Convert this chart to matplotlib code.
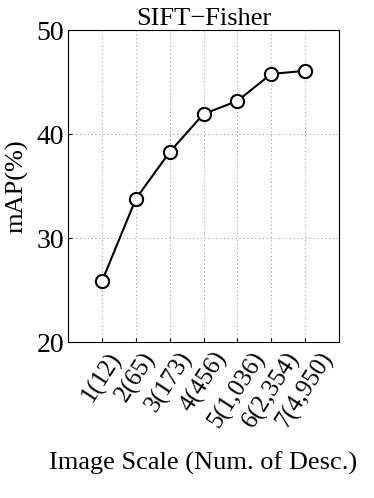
import matplotlib
matplotlib.use("Agg")
import matplotlib.pyplot as plt

# données
scales = [1, 2, 3, 4, 5, 6, 7]
labels = ["1(12)", "2(65)", "3(173)", "4(456)", "5(1,036)", "6(2,354)", "7(4,950)"]
mAP = [25.9, 33.8, 38.3, 41.95, 43.2, 45.8, 46.1]

plt.rcParams["font.family"] = ["Liberation Serif", "DejaVu Serif"]

fig = plt.figure(figsize=(3.74, 4.98), dpi=100)
ax = fig.add_axes([68.3 / 374, 1 - 342.3 / 498, 270.4 / 374, 312 / 498])

ax.plot(scales, mAP, color="black", linewidth=1.5, marker="o", markersize=9.5,
        markerfacecolor="white", markeredgecolor="black", markeredgewidth=1.5, zorder=3)

ax.set_xlim(0, 8)
ax.set_ylim(20, 50)
ax.set_yticks([20, 30, 40, 50])
ax.set_xticks(scales)
ax.set_xticklabels(labels, rotation=57, ha="center", va="top", fontsize=18)
ax.tick_params(axis="y", labelsize=20, direction="in", length=3, pad=3)
ax.tick_params(axis="x", direction="in", length=3, pad=4)
ax.grid(True, linestyle=(0, (1, 3)), color="#888888", linewidth=0.7)

ax.set_title("SIFT\u2212Fisher", fontsize=19, pad=2)
ax.set_ylabel("mAP(%)", fontsize=19, labelpad=6)
ax.set_xlabel("Image Scale (Num. of Desc.)", fontsize=19, labelpad=14)

fig.savefig("out.png", dpi=100)
